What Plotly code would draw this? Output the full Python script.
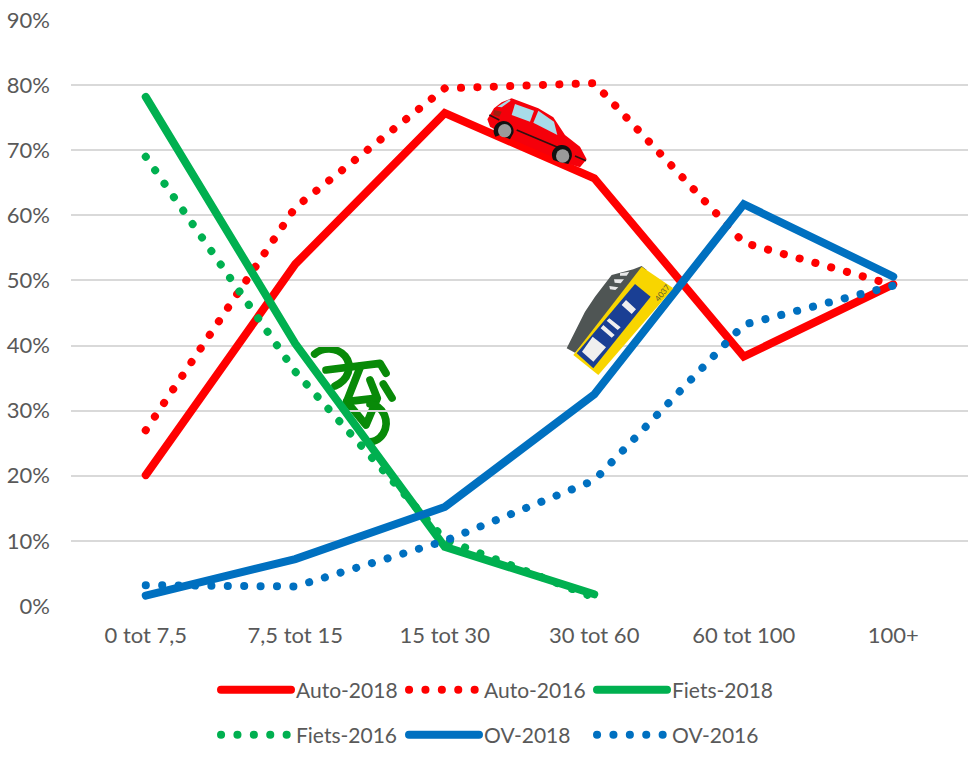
import base64
import plotly.graph_objects as go

categories = ["0 tot 7,5", "7,5 tot 15", "15 tot 30", "30 tot 60", "60 tot 100", "100+"]
auto_2018 = [20.1, 52.5, 75.7, 65.7, 38.3, 49.4]
auto_2016 = [27.0, 61.2, 79.5, 80.3, 55.8, 49.3]
fiets_2018 = [78.2, 40.3, 9.1, 1.8, None, None]
fiets_2016 = [69.0, 36.0, 10.2, 1.3, None, None]
ov_2018 = [1.6, 7.2, 15.2, 32.5, 61.7, 50.6]
ov_2016 = [3.2, 3.0, 10.0, 19.3, 43.2, 49.2]

RED, GREEN, BLUE = "#ff0000", "#00b050", "#0070c0"
DOT = "0.1px,16.3px"
FONT = "Lato"
W, H = 968, 757
L, R, T, B = 71, 0, 20, 151
PW, PH = W - L - R, H - T - B


def px(x):
    return (x - L) / PW


def py(y):
    return (H - B - y) / PH


series = [
    ("Auto-2018", auto_2018, RED, None, 8, "legend"),
    ("Auto-2016", auto_2016, RED, DOT, 8, "legend"),
    ("Fiets-2018", fiets_2018, GREEN, None, 8, "legend"),
    ("Fiets-2016", fiets_2016, GREEN, DOT, 8, "legend2"),
    ("OV-2018", ov_2018, BLUE, None, 8, "legend2"),
    ("OV-2016", ov_2016, BLUE, DOT, 8, "legend2"),
]

fig = go.Figure()
for name, vals, col, dash, lw, leg in series:
    fig.add_trace(go.Scatter(x=categories, y=vals, name=name, mode="lines", legend=leg,
                             line=dict(color=col, width=lw, dash=dash or "solid")))

icons_svg = """<svg xmlns='http://www.w3.org/2000/svg' viewBox='0 0 660 930' width='660' height='930'>
<path d='M52 118 L72 85 L95 67 L125 55 L205 85 L250 112 L285 165 L330 200 L350 238 L330 262 L290 250 L130 180 L60 140 Z' fill='#f5000a'/>
<path d='M82 80 L118 58 L122 62 L95 82 Z' fill='#a8dbe8'/>
<path d='M135 72 L192 92 L180 125 L125 105 Z' fill='#a8dbe8'/>
<path d='M205 92 L252 125 L262 165 L190 128 Z' fill='#a8dbe8'/>
<path d='M72 90 L95 95 L88 110 L70 105 Z' fill='#a02010'/>
<path d='M58 105 L88 120 M140 150 L270 205 M315 228 L348 242' stroke='#301010' stroke-width='5' fill='none'/>
<path d='M76 170 A30 30 0 1 1 130 160 L120 178 L90 165 Z' fill='#111'/><circle cx='104' cy='152' r='20' fill='#9a9a9a'/>
<path d='M250 240 A30 30 0 1 1 304 235 L295 252 L265 245 Z' fill='#111'/><circle cx='278' cy='228' r='20' fill='#9a9a9a'/>
<path d='M290 805 L345 695 L375 650 L425 585 L490 568 L515 558 L530 570 L315 818 Z' fill='#4f5554'/>
<path d='M418 618 L445 622 L436 630 L420 628 Z M432 598 L462 598 L452 610 L434 608 Z M450 580 L478 575 L470 587 L450 587 Z' fill='#e8e8e8'/>
<path d='M515 560 L610 625 L385 885 L310 825 Z' fill='#f8d500'/>
<path d='M495 612 L542 650 L370 865 L320 820 Z' fill='#1a3f94'/>
<path d='M368 770 L408 802 L370 845 L336 815 Z' fill='#efefef'/>
<path d='M400 735 L434 765 L425 773 L392 745 Z M418 715 L452 742 L443 750 L410 722 Z M468 660 L498 688 L485 702 L455 675 Z' fill='#efefef'/>
</svg>"""

bike_svg = """<svg xmlns='http://www.w3.org/2000/svg' viewBox='0 0 390 390' width='390' height='390'>
<g fill='none' stroke='#088a08' stroke-width='23' stroke-linecap='round' stroke-linejoin='round'>
<path d='M74 72 C95 52 140 50 165 78 C190 108 175 150 135 168'/>
<path d='M108 120 L270 100 L288 130'/>
<path d='M212 108 L170 215 L228 285 L262 205 L240 150'/>
<path d='M170 215 L255 205'/>
<path d='M280 162 L306 204'/>
<path d='M240 222 C282 228 300 275 280 310 C268 330 248 338 232 335'/>
</g></svg>"""


def uri(svg):
    return "data:image/svg+xml;base64," + base64.b64encode(svg.encode()).decode()


images = [
    dict(source=uri(icons_svg), xref="paper", yref="paper", x=px(470), y=py(80),
         sizex=220 / PW, sizey=310 / PH, xanchor="left", yanchor="top", sizing="stretch", layer="above"),
    dict(source=uri(bike_svg), xref="paper", yref="paper", x=px(290), y=py(330),
         sizex=130 / PW, sizey=130 / PH, xanchor="left", yanchor="top", sizing="stretch", layer="below"),
]

legend_common = dict(orientation="h", xanchor="left", yanchor="middle", bgcolor="rgba(0,0,0,0)",
                     font=dict(family=FONT, size=21, color="#595959"), itemwidth=70,
                     entrywidth=103, entrywidthmode="pixels", traceorder="normal",
                     itemclick=False, itemdoubleclick=False)

fig.update_layout(
    width=W, height=H, autosize=False,
    margin=dict(l=L, r=R, t=T, b=B, pad=0),
    paper_bgcolor="white", plot_bgcolor="white",
    images=images,
    font=dict(family=FONT, size=21, color="#595959"),
    showlegend=True,
    legend=dict(x=px(216), y=py(690), **legend_common),
    legend2=dict(x=px(216), y=py(735), **legend_common),
    annotations=[dict(text="4037", xref="paper", yref="paper", x=px(662), y=py(293), showarrow=False,
                      textangle=-52, font=dict(family=FONT, size=8, color="#5a5a30"))],
    xaxis=dict(type="category", range=[-0.5, 5.5], showgrid=False, zeroline=False, showline=False,
               ticks="", tickfont=dict(size=22), ticklabelstandoff=14, fixedrange=True),
    yaxis=dict(range=[0, 90], tickvals=[0, 10, 20, 30, 40, 50, 60, 70, 80, 90],
               ticktext=["0%", "10%", "20%", "30%", "40%", "50%", "60%", "70%", "80%", "90%"],
               showgrid=True, gridcolor="#d9d9d9", gridwidth=2, zeroline=False, showline=False,
               ticks="", ticklabelstandoff=20, tickfont=dict(size=22), fixedrange=True),
)

post = ("var s=document.createElement('style');"
        "s.textContent='body{margin:0}.js-line,.legendlines path{stroke-linecap:round}';"
        "document.head.appendChild(s);")
fig.write_html("out.html", post_script=post, config={"displayModeBar": False})
